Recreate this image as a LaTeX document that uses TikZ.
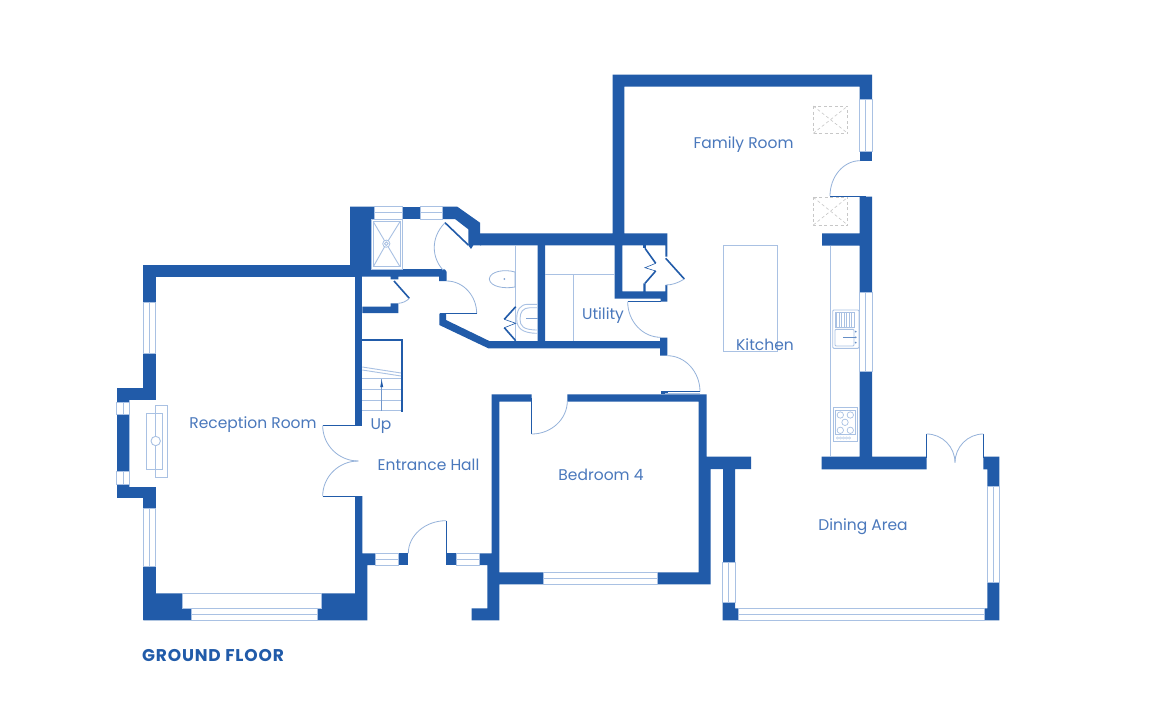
\documentclass[tikz,border=0pt]{standalone}
\usepackage{fontspec}
\setmainfont{Poppins}
\usetikzlibrary{calc}
\definecolor{wallblue}{HTML}{215BA9}
\definecolor{thinblue}{HTML}{A9C1E3}
\definecolor{textblue}{HTML}{4A78BC}
\newcommand{\swingdoor}[3]{\draw[swing] #1 .. controls ($#1!0.55!#2$) and ($#3!0.55!#2$) .. #3;}
\begin{document}
\begin{tikzpicture}[x=1pt,y=-1pt]
\tikzstyle{wall}=[fill=wallblue];
\tikzstyle{glass}=[draw=thinblue,line width=0.9pt,fill=white];
\tikzstyle{fitting}=[draw=thinblue,line width=0.9pt];
\tikzstyle{swing}=[draw=thinblue!85!wallblue,line width=0.8pt];
\tikzstyle{leaf}=[draw=wallblue,line width=1.6pt];
\tikzstyle{thinleaf}=[draw=wallblue,line width=0.6pt];
\tikzstyle{skylight}=[draw=black!22,line width=0.6pt,dash pattern=on 3pt off 2.5pt];
\tikzstyle{room}=[text=textblue,font=\fontsize{15.5}{17}\selectfont,inner sep=0pt];
\fill[white] (0,0) rectangle (1170,725);
\useasboundingbox (0,0) rectangle (1170,725);

\fill[wall] (143.3,264.7) rectangle (362.3,276.7);
\fill[wall] (143.3,264.7) rectangle (155.7,302.7);
\fill[wall] (143.3,353.3) rectangle (155.7,400);
\fill[wall] (116.7,387.7) rectangle (155.7,400);
\fill[wall] (116.7,387.7) rectangle (129.3,402.3);
\fill[wall] (116.7,414) rectangle (129.3,471.7);
\fill[wall] (116.7,484) rectangle (129.3,498.3);
\fill[wall] (129.3,486.7) rectangle (155.7,498.3);
\fill[wall] (143.3,486.7) rectangle (155.7,508.3);
\fill[wall] (143.3,566.7) rectangle (155.7,620.3);
\fill[wall] (143.3,593.3) -- (182.7,593.3) -- (182.7,608.3) -- (191.3,608.3) -- (191.3,620.3) -- (143.3,620.3) -- cycle;
\fill[wall] (321.7,593.3) -- (355,593.3) -- (355,496) -- (362.3,496) -- (362.3,553.3) -- (375,553.3) -- (375,565) -- (367.3,565) -- (367.3,620.3) -- (317.7,620.3) -- (317.7,608.3) -- (321.7,608.3) -- cycle;
\fill[wall] (355,276.7) rectangle (362.3,425.7);
\fill[wall] (398.3,553.3) rectangle (408.3,565);
\fill[wall] (446,553.3) rectangle (456.7,565);
\fill[wall] (479.3,553.3) -- (491.7,553.3) -- (491.7,394.3) -- (531.7,394.3) -- (531.7,401.7) -- (499.3,401.7) -- (499.3,572.3) -- (543.3,572.3) -- (543.3,584.3) -- (499.3,584.3) -- (499.3,620.3) -- (471.7,620.3) -- (471.7,608.3) -- (487.3,608.3) -- (487.3,565) -- (479.3,565) -- cycle;
\fill[wall] (567.3,394.3) -- (706.7,394.3) -- (706.7,456.7) -- (751,456.7) -- (751,469) -- (735,469) -- (735,562.5) -- (723,562.5) -- (723,469) -- (710.7,469) -- (710.7,584.3) -- (657.7,584.3) -- (657.7,572.3) -- (698.7,572.3) -- (698.7,401.7) -- (567.3,401.7) -- cycle;
\fill[wall] (722.7,602.7) -- (735,602.7) -- (735,608.3) -- (738.3,608.3) -- (738.3,620.3) -- (722.7,620.3) -- cycle;
\fill[wall] (984,608.3) -- (987.3,608.3) -- (987.3,582.7) -- (999.3,582.7) -- (999.3,620.3) -- (984,620.3) -- cycle;
\fill[wall] (983.3,456.7) -- (999.3,456.7) -- (999.3,486) -- (987.3,486) -- (987.3,469.3) -- (983.3,469.3) -- cycle;
\fill[wall] (821.7,456.7) -- (859.7,456.7) -- (859.7,371.7) -- (872,371.7) -- (872,456.7) -- (926.7,456.7) -- (926.7,469.3) -- (821.7,469.3) -- cycle;
\fill[wall] (859.7,196.7) -- (872,196.7) -- (872,292.7) -- (859.7,292.7) -- (859.7,245.5) -- (822,245.5) -- (822,233.3) -- (859.7,233.3) -- cycle;
\fill[wall] (612.7,74.7) -- (872,74.7) -- (872,99.3) -- (859.7,99.3) -- (859.7,86.7) -- (624.3,86.7) -- (624.3,233.3) -- (667.3,233.3) -- (667.3,256.7) -- (665.3,256.7) -- (665.3,245.3) -- (622.3,245.3) -- (622.3,291.3) -- (643.3,291.3) -- (643.3,283.3) -- (645.7,283.3) -- (645.7,291.3) -- (665.3,291.3) -- (665.3,285) -- (667.3,285) -- (667.3,301.7) -- (660.7,301.7) -- (660.7,298.5) -- (614.7,298.5) -- (614.7,245.3) -- (480,245.3) -- (480,233.3) -- (612.7,233.3) -- cycle;
\fill[wall] (643.3,245) rectangle (645.7,248.3);
\fill[wall] (859.7,151.7) rectangle (872,160.7);
\fill[wall] (350,206.7) -- (374.7,206.7) -- (374.7,219) -- (371.7,219) -- (371.7,269) -- (439,269) -- (445,269.5) -- (446.7,272) -- (446.7,281) -- (439,281) -- (439,276.7) -- (398.3,276.7) -- (398.3,279.3) -- (390.7,279.3) -- (390.7,276.7) -- (340,276.7) -- (340,265) -- (350,265) -- cycle;
\fill[wall] (402.7,206.7) rectangle (420,219);
\fill[wall] (442.3,206.7) -- (457.3,206.7) -- (480,222.7) -- (480,233.3) -- (481,245.3) -- (473.3,245.3) -- (471,249) -- (468.3,245.3) -- (468.3,229.3) -- (455,219) -- (442.3,219) -- cycle;
\fill[wall] (362.3,306.7) -- (390.7,306.7) -- (390.7,303.3) -- (398.3,303.3) -- (398.3,313) -- (362.3,313) -- cycle;
\fill[wall] (439.3,313.7) -- (446,313.7) -- (446,320) -- (489.3,341) -- (537.7,341) -- (537.7,245) -- (545,245) -- (545,341) -- (660,341) -- (660,337.7) -- (667.3,337.7) -- (667.3,355.7) -- (660,355.7) -- (660,348.3) -- (488.3,348.3) -- (439.3,325) -- cycle;
\fill[wall] (660.7,391) rectangle (668,394.3);

\draw[glass] (143.3,302.7) rectangle (155.7,353.3);
\draw[fitting] (149.5,302.7) -- (149.5,353.3);
\draw[glass] (116.7,402.3) rectangle (129.3,414);
\draw[fitting] (123,402.3) -- (123,414);
\draw[glass] (116.7,471.7) rectangle (129.3,484);
\draw[fitting] (123,471.7) -- (123,484);
\draw[glass] (143.3,508.3) rectangle (155.7,566.7);
\draw[fitting] (149.5,508.3) -- (149.5,566.7);
\draw[glass] (182.7,593.3) rectangle (321.7,608.3);
\draw[glass] (191.3,608.3) rectangle (317.7,620.3);
\draw[fitting] (191.3,614.3) -- (317.7,614.3);
\draw[glass] (375,553.3) rectangle (398.3,565);
\draw[fitting] (375,559.2) -- (398.3,559.2);
\draw[glass] (456.7,553.3) rectangle (479.3,565);
\draw[fitting] (456.7,559.2) -- (479.3,559.2);
\draw[glass] (543.3,572.3) rectangle (657.7,584.3);
\draw[fitting] (543.3,578.3) -- (657.7,578.3);
\draw[glass] (722.7,562.7) rectangle (735,602.7);
\draw[fitting] (728.9,562.7) -- (728.9,602.7);
\draw[glass] (738.3,608.3) rectangle (984,620);
\draw[fitting] (738.3,614.3) -- (984,614.3);
\draw[glass] (987.3,486) rectangle (999.3,582.7);
\draw[fitting] (993.3,486) -- (993.3,582.7);
\draw[glass] (859.7,292.7) rectangle (872,371.7);
\draw[fitting] (865.8,292.7) -- (865.8,371.7);
\draw[glass] (859.7,99.3) rectangle (872,151.7);
\draw[fitting] (865.8,99.3) -- (865.8,151.7);
\draw[glass] (374.7,206.7) rectangle (402.7,219);
\draw[fitting] (374.7,212.7) -- (402.7,212.7);
\draw[glass] (420,206.7) rectangle (442.3,219);
\draw[fitting] (420,212.7) -- (442.3,212.7);

\draw[fitting] (146.7,413.3) rectangle (162.7,469);
\draw[fitting] (155.7,405) rectangle (167.7,477.3);
\draw[fill=white,draw=thinblue,line width=0.9pt] (155.7,441) circle (4.7);
\draw[fitting] (129.3,400) -- (129.3,486.7);

\draw[fitting] (371.7,219) rectangle (402,269);
\draw[fitting] (373.3,221.7) rectangle (400,266.7);
\draw[fitting] (373.3,221.7) -- (386.3,243.7) -- (400,221.7) (373.3,266.7) -- (386.3,243.7) -- (400,266.7);
\draw[fill=white,draw=thinblue,line width=0.8pt] (386.3,243.7) circle (3.6);
\draw[fitting] (386.3,243.7) circle (1.8);

\draw[leaf] (445,222.7) -- (468.3,245);
\draw[swing] (445,222.7) .. controls (430,238) and (432,258) .. (443,270);
\swingdoor{(446.7,281)}{(476.7,281)}{(476.7,313.7)}
\draw[thinleaf] (440,313.7) -- (476.7,313.7);
\draw[leaf] (394,281) -- (409.3,298.3);
\swingdoor{(409.3,298.3)}{(405,303.3)}{(398.3,303.3)}

\draw[fitting] (515.7,245.3) -- (515.7,341);
\draw[swing] (515,272) -- (515,287) .. controls (505,289) and (490,287) .. (489.3,279) .. controls (490,271) and (505,269) .. (515,272);
\fill[thinblue!70!wallblue] (504.3,279) circle (1);
\draw[fitting] (537.7,304.3) -- (528,304.3) .. controls (520,304.3) and (516.7,310) .. (516.7,319) .. controls (516.7,328) and (522,333.3) .. (537.7,333.3);
\draw[fitting] (537.7,307.7) -- (530,307.7) .. controls (523,307.7) and (520,312) .. (520,319) .. controls (520,326) and (523,330) .. (537.7,330);
\draw[thinleaf,draw=thinblue!70!wallblue] (526,318.3) -- (537.7,318.3);
\draw[leaf] (515.7,306.7) -- (504.3,319.3);
\draw[leaf] (504.3,327.7) -- (515.7,340.7);
\draw[thinleaf] (504.3,319.3) -- (515.7,323.3) -- (504.3,327.7);

\draw[fitting] (545,274) -- (614.7,274);
\draw[fitting] (573.7,274) -- (573.7,341);
\draw[thinleaf] (627.7,301.7) -- (660.7,301.7);
\swingdoor{(627.7,301.7)}{(627.7,337.3)}{(660.7,337.3)}
\draw[leaf] (645,248.3) -- (655.7,263.3);
\draw[leaf] (655.7,271) -- (645,283.3);
\draw[thinleaf] (655.7,263.3) -- (645,267.7) -- (655.7,271);
\draw[leaf] (665.7,258.3) -- (684.3,279);
\draw[swing] (684.3,279) .. controls (678,283) and (672,285) .. (665.7,285);

\swingdoor{(667.3,355.7)}{(700,355.7)}{(700,391.7)}
\draw[thinleaf] (665,391.2) -- (700,391.2);
\draw[fitting] (665,393) -- (700,393);

\draw[leaf] (362.3,340) -- (403.3,340);
\draw[leaf] (401.7,340) -- (401.7,411.7);
\draw[fitting] (362.3,367) -- (401,373) (362.3,370) -- (401,376);
\foreach \treadY in {378.3,389.5,400.7,410.7}
	\draw[fitting] (362.3,\treadY) -- (401,\treadY);
\draw[thinleaf,draw=thinblue!60!wallblue] (381.7,379) -- (381.7,410.7);
\fill[wallblue] (381.7,380) -- (383.2,387) -- (380.2,387) -- cycle;

\draw[thinleaf] (322.7,425.7) -- (355,425.7);
\draw[thinleaf] (322.7,496) -- (355,496);
\swingdoor{(322.7,425.7)}{(322.7,461)}{(358.3,461)}
\swingdoor{(322.7,496)}{(322.7,461)}{(358.3,461)}
\draw[leaf,line width=1pt] (446,520.7) -- (446,558);
\swingdoor{(408.3,553.3)}{(408.3,520.7)}{(446,520.7)}
\draw[leaf,line width=1pt] (531.7,398) -- (531.7,434);
\swingdoor{(531.7,434)}{(567.3,434)}{(567.3,401)}
\draw[leaf,line width=1pt] (926.7,434) -- (926.7,458);
\draw[leaf,line width=1pt] (983.3,434) -- (983.3,458);
\swingdoor{(926.7,434)}{(955,434)}{(955,462.7)}
\swingdoor{(983.3,434)}{(955,434)}{(955,462.7)}
\draw[leaf,line width=1pt] (830,196) -- (865.7,196);
\swingdoor{(830,196)}{(830,160.7)}{(860,160.7)}

\draw[skylight] (813.3,106) rectangle (847.7,133.3);
\draw[skylight] (813.3,106) -- (847.7,133.3) (813.3,133.3) -- (847.7,106);
\draw[skylight] (813.3,197.3) rectangle (847.7,225);
\draw[skylight] (813.3,197.3) -- (847.7,225) (813.3,225) -- (847.7,197.3);

\draw[fitting] (723.3,245) rectangle (777.7,351.7);
\draw[fitting] (830.7,245.5) -- (830.7,456.7);
\draw[fitting,rounded corners=1pt] (832.7,310) rectangle (859,348.3);
\draw[fitting] (835,312.3) rectangle (854,327.3);
\foreach \hatchX in {836.5,839,...,853}
	\draw[fitting,line width=0.6pt] (\hatchX,313) -- (\hatchX,326.5);
\draw[fitting,rounded corners=1pt] (835,329.3) rectangle (854,346);
\draw[thinleaf,draw=thinblue!50!wallblue] (843.3,337.3) -- (856,337.3);
\foreach \knobY in {331.7,337.3,342.7}
	\fill[thinblue!50!wallblue] (855.7,\knobY) circle (1);
\draw[fitting] (833.3,407.7) rectangle (857.7,441.7);
\draw[fitting,line width=0.6pt] (835.5,410) rectangle (855.5,434);
\foreach \ringX/\ringY in {840.3/415,850.3/415,845/422.3,840.3/430.3,850.3/430.3}
	\draw[fitting,line width=0.7pt] (\ringX,\ringY) circle (3.2);
\foreach \dotX in {837.5,840.5,843.5,846.5,849.5}
	\draw[fitting,line width=0.4pt] (\dotX,438) circle (1.1);

\node[room] (familyroom) at (743.5,145) {Family Room};
\node[room] (utility) at (603,316) {Utility};
\node[room] (kitchen) at (765,345) {Kitchen};
\node[room] (reception) at (253,424.5) {Reception Room};
\node[room] (up) at (381,426) {Up};
\node[room] (hall) at (428.5,465) {Entrance Hall};
\node[room] (bedroom) at (601,475) {Bedroom 4};
\node[room] (dining) at (863,527) {Dining Area};
\node[text=wallblue,font=\fontsize{17}{19}\selectfont\bfseries\addfontfeature{LetterSpace=5},inner sep=0pt] (floorname) at (213,656) {GROUND FLOOR};
\end{tikzpicture}
\end{document}
